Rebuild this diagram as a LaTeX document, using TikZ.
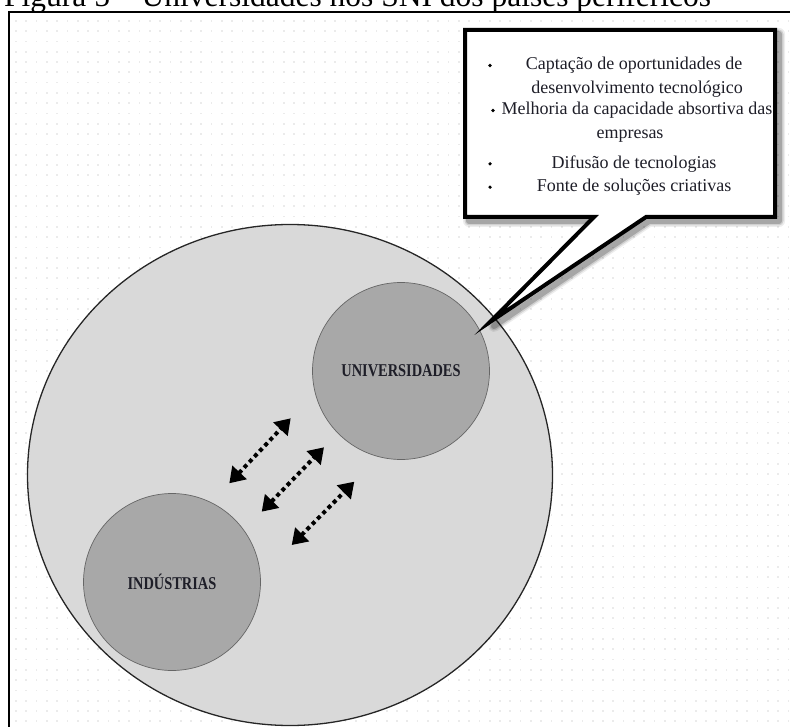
\documentclass[tikz,border=0pt]{standalone}
\usepackage{fontspec}
\usepackage{graphicx}
\setmainfont{Liberation Serif}
\usetikzlibrary{arrows.meta,shapes.geometric}

\definecolor{dotgray}{gray}{0.92}
\definecolor{ringfill}{gray}{0.85}
\definecolor{blobfill}{gray}{0.66}
\definecolor{inkdark}{RGB}{30,30,40}

\begin{document}
\begin{tikzpicture}[x=1pt,y=-1pt,
  ring/.style={ellipse, draw=black!85, line width=1.3pt, fill=ringfill,
    minimum width=525pt, minimum height=501pt, inner sep=0pt},
  blob/.style={circle, draw=black!60, line width=0.7pt, fill=blobfill,
    minimum size=177pt, inner sep=0pt},
  blobtext/.style={font=\bfseries\fontsize{18}{18}\selectfont, text=inkdark},
  link/.style={line width=4pt, dash pattern=on 4pt off 3.5pt,
    {Triangle[width=19pt,length=15pt]}-{Triangle[width=19pt,length=15pt]}},
  itemtext/.style={font=\fontsize{18}{20}\selectfont, text=inkdark, anchor=base, inner sep=0pt},
  bulletdot/.style={fill=black}
]
\clip (0,0) rectangle (790,727);

% faint dotted paper grid
\foreach \i in {0,...,75}{
  \foreach \j in {0,...,69}{
    \fill[dotgray] (15+\i*10.3,20+\j*10.3) rectangle +(1.7,1.7);
  }
}

% title (partly above the page edge)
\node[anchor=base west, inner sep=0pt, font=\fontsize{31.5}{32}\selectfont] (title) at (4,7)
  {Figura 5 – Universidades nos SNI dos países periféricos};

% frame
\draw[line width=2pt] (9,760) -- (9,12.5) -- (820,12.5);

% national innovation system
\node[ring] (sni) at (290,475) {};
\node[blob] (univ) at (401,371) {};
\node[blob] (ind) at (172,582) {};
\node[blobtext] (univlabel) at (univ.center) {\scalebox{0.8}[1]{UNIVERSIDADES}};
\node[blobtext] (indlabel) at (ind.center) {\scalebox{0.8}[1]{INDÚSTRIAS}};

% interaction arrows
\coordinate (a1) at (229.3,483.3); \coordinate (b1) at (290.7,418.3);
\coordinate (a2) at (261.7,511.7); \coordinate (b2) at (324.0,447.3);
\coordinate (a3) at (291.7,545.0); \coordinate (b3) at (354.3,481.7);
\draw[link] (a1) -- (b1);
\draw[link] (a2) -- (b2);
\draw[link] (a3) -- (b3);

% callout shadow
\foreach \w/\o in {12/0.07,9/0.12,6/0.2}{
  \draw[line width=\w pt, opacity=\o, line join=round]
    (469,34) -- (779,34) -- (779,221) -- (649,221) -- (494,326) -- (598,221) -- (469,221) -- cycle;
}
% callout
\coordinate (ctl) at (465,30);
\coordinate (ctr) at (775,30);
\coordinate (cbr) at (775,217);
\coordinate (cpr) at (646,217);
\coordinate (ctip) at (490,322);
\coordinate (cpl) at (594,217);
\coordinate (cbl) at (465,217);
\draw[line width=4pt, fill=white, line join=miter, miter limit=20]
  (ctl) -- (ctr) -- (cbr) -- (cpr) -- (ctip) -- (cpl) -- (cbl) -- cycle;

% callout text
\node[itemtext] (t1) at (634,70) {Captação de oportunidades de};
\node[itemtext] (t2) at (637,94) {desenvolvimento tecnológico};
\node[itemtext] (t3) at (637,115) {Melhoria da capacidade absortiva das};
\node[itemtext] (t4) at (630,138.3) {empresas};
\node[itemtext] (t5) at (634,168.3) {Difusão de tecnologias};
\node[itemtext] (t6) at (634,191.7) {Fonte de soluções criativas};
\fill[bulletdot] (490,65.5) circle (1.8);
\fill[bulletdot] (493,110.5) circle (1.8);
\fill[bulletdot] (490,163.8) circle (1.8);
\fill[bulletdot] (490,187.2) circle (1.8);
\end{tikzpicture}
\end{document}
